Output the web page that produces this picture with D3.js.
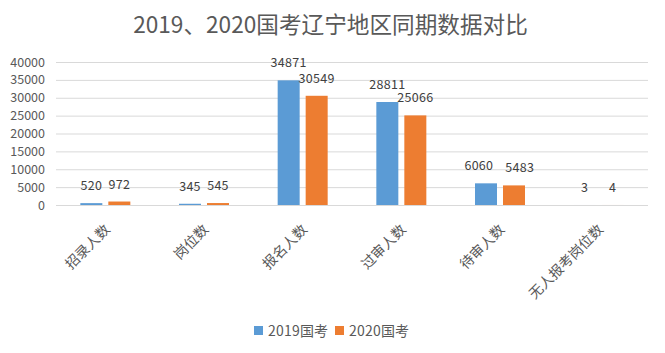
<!DOCTYPE html>
<html><head><meta charset="utf-8">
<script src="https://cdn.jsdelivr.net/npm/d3@7"></script>
<style>body{margin:0;background:#fff}svg{display:block}text{font-family:"Noto Sans CJK SC","Noto Sans",sans-serif}</style>
</head><body>
<svg id="c" width="665" height="353"></svg>
<script>
const title = "2019、2020国考辽宁地区同期数据对比";
const categories = ["招录人数","岗位数","报名人数","过审人数","待审人数","无人报考岗位数"];
const seriesNames = ["2019国考","2020国考"];
const values2019 = [520, 345, 34871, 28811, 6060, 3];
const values2020 = [972, 545, 30549, 25066, 5483, 4];
const yTicks = [0,5000,10000,15000,20000,25000,30000,35000,40000];
const colors = ["#5B9BD5","#ED7D31"];

const svg = d3.select("#c");
const x0 = d3.scaleBand().domain(categories).range([56,648]);
const x1 = d3.scalePoint().domain(seriesNames).range([-14,14]);
const y = d3.scaleLinear().domain([0,40000]).range([205,62]);
const barW = 22;
const textColor = "#595959";
const numFont = '"Noto Sans","DejaVu Sans",sans-serif';

// title, fitted to the reference width
const t = svg.append("text").attr("x",330.5).attr("y",33).attr("text-anchor","middle")
  .attr("font-size",21).attr("fill",textColor).text(title);
const tw = t.node().getComputedTextLength();
t.attr("font-size", 21*395/tw);

// gridlines
svg.append("g").selectAll("line").data(yTicks).join("line")
  .attr("x1",56).attr("x2",648).attr("y1",d=>y(d)+0.5).attr("y2",d=>y(d)+0.5)
  .attr("stroke","#D9D9D9").attr("stroke-width",1);

// y axis labels
const yAxis = d3.axisLeft(y).tickValues(yTicks).tickSize(0).tickPadding(0).tickFormat(d3.format("d"));
const ga = svg.append("g").attr("transform","translate(45,0)").call(yAxis);
ga.select(".domain").remove();
ga.selectAll("text").attr("font-size",12.5).attr("fill",textColor).attr("font-family",numFont);

const data = categories.map((c,i)=>({cat:c, vals:[values2019[i], values2020[i]]}));
const groups = svg.append("g").selectAll("g").data(data).join("g");
seriesNames.forEach((s,si)=>{
  groups.append("rect")
    .attr("x",d=>x0(d.cat)+x0.bandwidth()/2+x1(s)-barW/2)
    .attr("width",barW)
    .attr("y",d=>y(d.vals[si]))
    .attr("height",d=>y(0)-y(d.vals[si]))
    .attr("fill",colors[si]);
});
// data labels with simple overlap avoidance
groups.each(function(d){
  const g = d3.select(this);
  const labels = seriesNames.map((s,si)=>g.append("text")
    .attr("x",x0(d.cat)+x0.bandwidth()/2+x1(s))
    .attr("y",y(d.vals[si])-13)
    .attr("text-anchor","middle").attr("font-size",12.5).attr("fill","#404040")
    .attr("font-family",numFont).attr("letter-spacing",0.3)
    .text(d.vals[si]));
  const [a,b] = labels;
  const ya = +a.attr("y"), yb = +b.attr("y");
  if (Math.abs(ya-yb) < 12) {
    const wa = a.node().getComputedTextLength(), wb = b.node().getComputedTextLength();
    const gap = (+b.attr("x") - wb/2) - (+a.attr("x") + wa/2);
    const minGap = 12;
    if (gap < 2) {
      const need = minGap - gap;
      a.attr("x", +a.attr("x") - need*0.55);
      b.attr("x", +b.attr("x") + need*0.45);
    }
  }
});

// x labels
svg.append("g").selectAll("text").data(categories).join("text")
  .attr("transform",d=>`translate(${x0(d)+x0.bandwidth()/2+2},227) rotate(-45)`)
  .attr("text-anchor","end").attr("dy","0.35em")
  .attr("font-size",14).attr("fill",textColor).text(d=>d);

// legend
const legX = [254,335];
seriesNames.forEach((s,i)=>{
  svg.append("rect").attr("x",legX[i]).attr("y",326).attr("width",9).attr("height",9).attr("fill",colors[i]);
  svg.append("text").attr("x",legX[i]+14).attr("y",336).attr("font-size",14).attr("letter-spacing",0.2)
    .attr("fill",textColor).text(s);
});
</script>
</body></html>
